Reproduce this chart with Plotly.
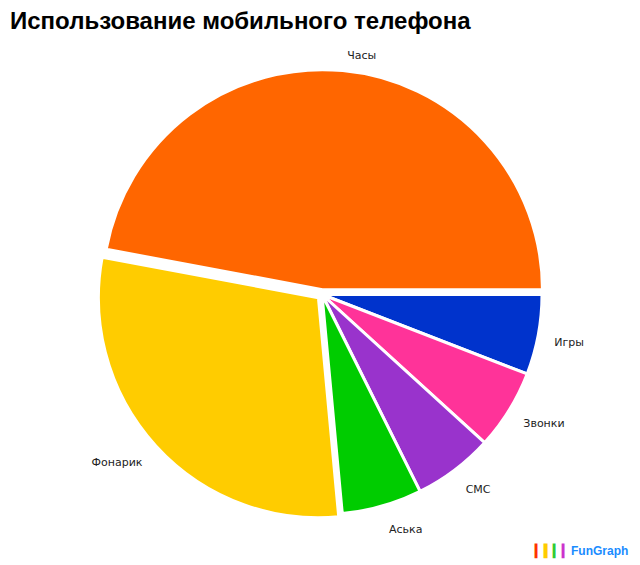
import plotly.graph_objects as go

labels = ["Часы", "Фонарик", "Аська", "СМС", "Звонки", "Игры"]
values = [40, 25, 5, 5, 5, 5]
colors = ["#FF6600", "#FFCC00", "#00CC00", "#9933CC", "#FF3399", "#0033CC"]
pulls = [0.022, 0.022, 0, 0, 0, 0]

W, H = 640, 565
cx, cy, R = 314, 286.5, 220
lab_dy, R_lab = 5, R + 13


def dom(r, dy=0):
    rd = r * (1 + max(pulls))
    c = cy + dy
    return dict(x=[(cx - rd) / W, (cx + rd) / W],
                y=[(H - c - rd) / H, (H - c + rd) / H])


common = dict(labels=labels[::-1], values=values[::-1], sort=False,
              direction="clockwise", rotation=90, pull=pulls[::-1],
              showlegend=False)

fig = go.Figure()
# visible slices (reversed + clockwise from 3 o'clock == counter-clockwise source order)
fig.add_trace(go.Pie(
    **common,
    marker=dict(colors=colors[::-1], line=dict(color="white", width=3)),
    textinfo="none", hoverinfo="label+value+percent",
    domain=dom(R),
))
# label ring, slightly larger and transparent, so outside labels sit a bit further out
fig.add_trace(go.Pie(
    **common,
    marker=dict(colors=["rgba(0,0,0,0)"] * len(labels), line=dict(width=0)),
    textinfo="label", textposition="outside",
    outsidetextfont=dict(family="DejaVu Sans, sans-serif", size=11, color="#222"),
    hoverinfo="skip",
    domain=dom(R_lab, lab_dy),
))

fig.update_layout(
    width=W, height=H,
    margin=dict(l=0, r=0, t=0, b=0),
    paper_bgcolor="white", plot_bgcolor="white",
    title=dict(text="<b>Использование мобильного телефона</b>",
               x=2 / W, xanchor="left", y=1 - 13 / H, yanchor="middle",
               font=dict(family="Liberation Sans, Arial, sans-serif", size=24, color="#000")),
    annotations=[dict(
        text="<span style='color:#ff3300'>▎</span><span style='color:#ffcc00'>▍</span>"
             "<span style='color:#33cc33'>▎</span><span style='color:#cc33cc'>▎</span>"
             "<span style='color:#1a8cff'>FunGraph</span>",
        x=1 - 18 / W, y=22 / H, xref="paper", yref="paper",
        xanchor="right", yanchor="middle", showarrow=False,
        font=dict(family="Liberation Sans, Arial, sans-serif", size=12, weight="bold"))],
)

fig.write_html("out.html")
